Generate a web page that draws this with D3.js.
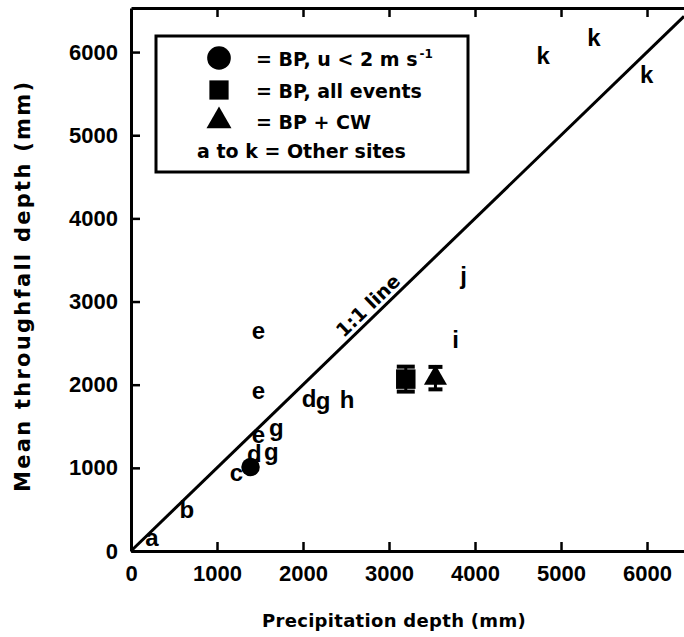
<!DOCTYPE html>
<html>
<head>
<meta charset="utf-8">
<script src="https://cdn.jsdelivr.net/npm/d3@7"></script>
<style>
  body { margin: 0; background: #fff; }
  svg { display: block; }
</style>
</head>
<body>
<div id="chart"></div>
<script>
const width = 684, height = 637;

// other sites a..k (precipitation, throughfall in mm)
const siteLabels = ["a", "b", "c", "d", "g", "e", "g", "e", "e", "d", "g", "h", "i", "j", "k", "k", "k"];
const sitePrecip = [243, 648, 1227, 1435, 1632, 1481, 1690, 1481, 1481, 2072, 2234, 2512, 3773, 3866, 4792, 5382, 5995];
const siteThrough = [156, 493, 937, 1166, 1190, 1394, 1478, 1923, 2656, 1827, 1803, 1815, 2548, 3317, 5962, 6178, 5733];

// BP series
const bpKeys = ["circle", "square", "triangle"];
const bpPrecip = [1390, 3195, 3540];
const bpThrough = [1010, 2067, 2079];
const bpError = [0, 150, 135];

const xTicks = [0, 1000, 2000, 3000, 4000, 5000, 6000];
const yTicks = [0, 1000, 2000, 3000, 4000, 5000, 6000];

const x = d3.scaleLinear().domain([0, 6430]).range([131, 684]);
const y = d3.scaleLinear().domain([0, 6530]).range([551, 8]);

const font = "'Liberation Sans', Arial, sans-serif";
const wideFont = "'DejaVu Sans', sans-serif";

const svg = d3.select("#chart").append("svg")
    .attr("width", width)
    .attr("height", height)
    .style("font-family", font);

// axes
const xAxis = svg.append("g")
    .attr("transform", `translate(0,${y(0)})`)
    .call(d3.axisBottom(x).tickValues(xTicks).tickFormat(d3.format("d"))
        .tickSizeInner(-9).tickSizeOuter(0).tickPadding(14));

const yAxis = svg.append("g")
    .attr("transform", `translate(${x(0)},0)`)
    .call(d3.axisLeft(y).tickValues(yTicks).tickFormat(d3.format("d"))
        .tickSizeInner(-9).tickSizeOuter(0).tickPadding(13));

const topAxis = svg.append("g")
    .attr("transform", `translate(0,${y.range()[1]})`)
    .call(d3.axisTop(x).tickValues(xTicks.slice(1)).tickFormat("")
        .tickSizeInner(-9).tickSizeOuter(0));

[xAxis, yAxis, topAxis].forEach(function(g) {
    g.select(".domain").attr("stroke", "#000").attr("stroke-width", 3);
    g.selectAll(".tick line").attr("stroke", "#000").attr("stroke-width", 2.5);
    g.selectAll(".tick text")
        .attr("fill", "#000")
        .style("font-family", font)
        .style("font-size", "22px")
        .style("font-weight", "bold");
});

// 1:1 line
const lineMax = 6430;
svg.append("line")
    .attr("x1", x(0)).attr("y1", y(0))
    .attr("x2", x(lineMax)).attr("y2", y(lineMax))
    .attr("stroke", "#000")
    .attr("stroke-width", 3);

const angle = Math.atan2(y(0) - y(1000), x(1000) - x(0));
const labelAt = 2850, gap = 5;
svg.append("text")
    .attr("transform", `translate(${x(labelAt) - gap * Math.sin(angle)},${y(labelAt) - gap * Math.cos(angle)}) rotate(${-angle * 180 / Math.PI})`)
    .attr("text-anchor", "middle")
    .style("font-family", wideFont)
    .style("font-size", "19px")
    .style("font-weight", "bold")
    .text("1:1 line");

// site letters
svg.append("g")
    .selectAll("text")
    .data(siteLabels)
    .join("text")
    .attr("x", function(d, i) { return x(sitePrecip[i]); })
    .attr("y", function(d, i) { return y(siteThrough[i]); })
    .attr("text-anchor", "middle")
    .attr("dy", "0.35em")
    .style("font-size", "24px")
    .style("font-weight", "bold")
    .text(function(d) { return d; });

// BP markers
const symbolOf = {
    circle: d3.symbol().type(d3.symbolCircle).size(270),
    square: d3.symbol().type(d3.symbolSquare).size(380),
    triangle: d3.symbol().type(d3.symbolTriangle).size(230)
};
const capHalf = { circle: 0, square: 9, triangle: 7 };

const bp = svg.append("g")
    .selectAll("g")
    .data(bpKeys)
    .join("g")
    .attr("transform", function(d, i) { return `translate(${x(bpPrecip[i])},${y(bpThrough[i])})`; });

bp.append("line")
    .attr("y1", function(d, i) { return y(bpThrough[i] + bpError[i]) - y(bpThrough[i]); })
    .attr("y2", function(d, i) { return y(bpThrough[i] - bpError[i]) - y(bpThrough[i]); })
    .attr("stroke", "#000").attr("stroke-width", 3);

bp.filter(function(d, i) { return bpError[i] > 0; })
    .selectAll(".cap")
    .data(function(d) {
        const i = bpKeys.indexOf(d);
        return [bpThrough[i] + bpError[i], bpThrough[i] - bpError[i]].map(function(v) {
            return { dy: y(v) - y(bpThrough[i]), half: capHalf[d] };
        });
    })
    .join("line")
    .attr("class", "cap")
    .attr("x1", function(c) { return -c.half; }).attr("x2", function(c) { return c.half; })
    .attr("y1", function(c) { return c.dy; }).attr("y2", function(c) { return c.dy; })
    .attr("stroke", "#000").attr("stroke-width", 4);

bp.append("path")
    .attr("d", function(d) { return symbolOf[d](); })
    .attr("fill", "#000");

// legend
const legend = svg.append("g");
legend.append("rect")
    .attr("x", 156).attr("y", 36)
    .attr("width", 312).attr("height", 136)
    .attr("fill", "#fff")
    .attr("stroke", "#000")
    .attr("stroke-width", 3);

const legendSym = {
    circle: d3.symbol().type(d3.symbolCircle).size(440),
    square: d3.symbol().type(d3.symbolSquare).size(370),
    triangle: d3.symbol().type(d3.symbolTriangle).size(270)
};
const rowY = [58, 90, 121];

legend.selectAll("path")
    .data(bpKeys)
    .join("path")
    .attr("transform", function(d, i) { return `translate(219,${rowY[i]})`; })
    .attr("d", function(d) { return legendSym[d](); })
    .attr("fill", "#000");

const legendText = [["= BP, u < 2 m s", "-1"], ["= BP, all events", ""], ["= BP + CW", ""]];
const lt = legend.selectAll(".lt")
    .data(legendText)
    .join("text")
    .attr("class", "lt")
    .attr("x", 256)
    .attr("y", function(d, i) { return rowY[i] + 8; })
    .style("font-family", wideFont)
    .style("font-size", "19px")
    .style("font-weight", "bold");
lt.append("tspan").text(function(d) { return d[0]; });
lt.append("tspan")
    .attr("dy", -8)
    .attr("dx", 2)
    .style("font-size", "12px")
    .text(function(d) { return d[1]; });

legend.append("text")
    .attr("x", 197).attr("y", 158)
    .style("font-family", wideFont)
    .style("font-size", "19px")
    .style("font-weight", "bold")
    .text("a to k = Other sites");

// axis titles
svg.append("text")
    .attr("x", 394).attr("y", 627)
    .attr("text-anchor", "middle")
    .style("font-family", wideFont)
    .style("font-size", "18px")
    .style("font-weight", "bold")
    .style("letter-spacing", "0.3px")
    .text("Precipitation depth (mm)");

svg.append("text")
    .attr("transform", "translate(30,287) rotate(-90)")
    .attr("text-anchor", "middle")
    .attr("textLength", 410)
    .attr("lengthAdjust", "spacing")
    .style("font-family", wideFont)
    .style("font-size", "21px")
    .style("font-weight", "bold")
    .text("Mean throughfall depth (mm)");
</script>
</body>
</html>
